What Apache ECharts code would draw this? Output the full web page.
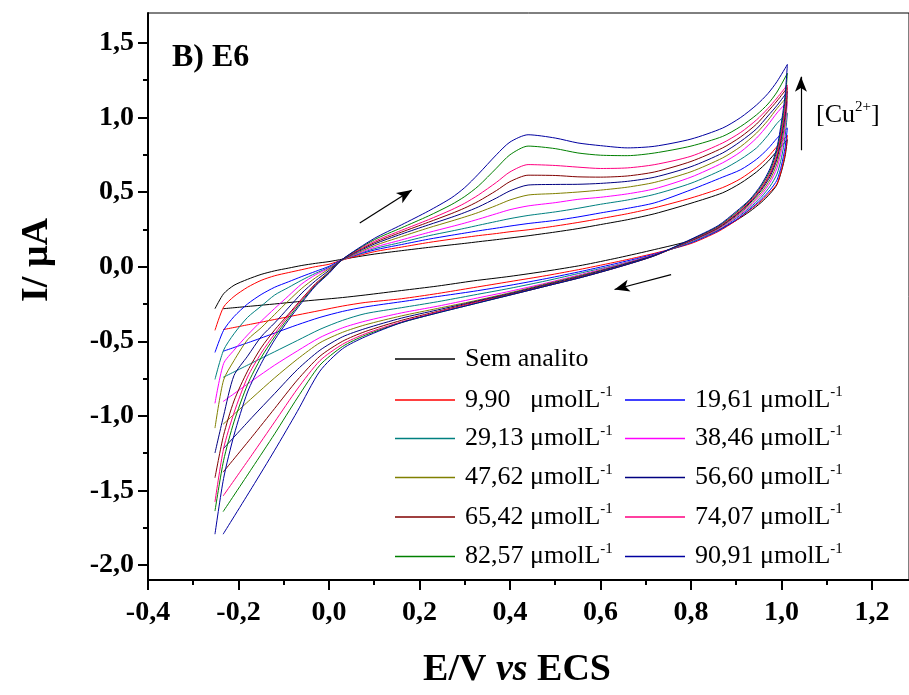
<!DOCTYPE html>
<html><head><meta charset="utf-8">
<script src="https://cdn.jsdelivr.net/npm/echarts@6/dist/echarts.min.js"></script>
<style>html,body{margin:0;padding:0;background:#fff}#c{width:909px;height:695px}</style>
</head><body><div id="c"></div>
<script>
// ---------- data ----------
// forward (anodic) scan potentials, V
const U_X = [-0.252, -0.233, -0.21, -0.18, -0.15, -0.12, -0.09, -0.06, -0.03, 0.0, 0.03, 0.1, 0.16, 0.22, 0.27, 0.3, 0.33, 0.37, 0.4, 0.44, 0.5, 0.55, 0.6, 0.66, 0.72, 0.8, 0.87, 0.91, 0.945, 0.97, 0.99, 1.013];
// reverse (cathodic) scan potentials, V
const L_X = [1.013, 1.008, 1.0, 0.99, 0.975, 0.955, 0.93, 0.9, 0.86, 0.8, 0.72, 0.64, 0.56, 0.48, 0.4, 0.32, 0.24, 0.16, 0.08, 0.03, -0.02, -0.07, -0.12, -0.17, -0.234];

const SERIES_NAMES = ['Sem analito', '9,90', '19,61', '29,13', '38,46', '47,62', '56,60', '65,42', '74,07', '82,57', '90,91'];
const COLORS = ['#000000', '#FF0000', '#0000FF', '#008080', '#FF00FF', '#808000', '#000080', '#800000', '#FF0080', '#008000', '#0000A0'];

// current, µA, forward scan
const UP_SEM   = [-0.282, -0.182, -0.125, -0.085, -0.052, -0.028, -0.01, 0.008, 0.022, 0.034, 0.05, 0.084, 0.107, 0.129, 0.146, 0.156, 0.167, 0.181, 0.192, 0.207, 0.232, 0.255, 0.282, 0.315, 0.355, 0.425, 0.495, 0.56, 0.635, 0.705, 0.775, 0.851];
const UP_9_90  = [-0.427, -0.271, -0.2, -0.138, -0.092, -0.061, -0.04, -0.02, 0.0, 0.016, 0.045, 0.1, 0.131, 0.162, 0.184, 0.196, 0.208, 0.222, 0.234, 0.247, 0.272, 0.296, 0.322, 0.355, 0.395, 0.46, 0.53, 0.59, 0.665, 0.735, 0.805, 0.88];
const UP_19_61 = [-0.575, -0.427, -0.335, -0.25, -0.187, -0.138, -0.102, -0.066, -0.032, 0.002, 0.048, 0.111, 0.148, 0.184, 0.21, 0.225, 0.24, 0.258, 0.272, 0.289, 0.31, 0.333, 0.36, 0.391, 0.428, 0.515, 0.6, 0.65, 0.72, 0.79, 0.86, 0.929];
const UP_29_13 = [-0.756, -0.56, -0.45, -0.34, -0.265, -0.19, -0.14, -0.09, -0.045, -0.005, 0.045, 0.12, 0.163, 0.207, 0.238, 0.257, 0.277, 0.303, 0.322, 0.343, 0.367, 0.391, 0.418, 0.447, 0.485, 0.559, 0.651, 0.72, 0.796, 0.88, 0.96, 1.029];
const UP_38_46 = [-0.916, -0.65, -0.56, -0.458, -0.366, -0.28, -0.197, -0.115, -0.055, -0.01, 0.045, 0.129, 0.179, 0.229, 0.268, 0.292, 0.318, 0.355, 0.382, 0.407, 0.429, 0.451, 0.465, 0.488, 0.522, 0.6, 0.696, 0.77, 0.862, 0.95, 1.03, 1.107];
const UP_47_62 = [-1.082, -0.76, -0.63, -0.49, -0.41, -0.32, -0.23, -0.145, -0.075, -0.015, 0.045, 0.14, 0.201, 0.26, 0.305, 0.333, 0.363, 0.41, 0.447, 0.48, 0.49, 0.5, 0.513, 0.533, 0.565, 0.636, 0.729, 0.805, 0.896, 0.98, 1.06, 1.14];
const UP_56_60 = [-1.249, -1.0, -0.73, -0.6, -0.47, -0.377, -0.277, -0.177, -0.095, -0.025, 0.048, 0.151, 0.218, 0.28, 0.33, 0.363, 0.4, 0.46, 0.508, 0.547, 0.551, 0.552, 0.558, 0.572, 0.6, 0.67, 0.762, 0.84, 0.924, 1.01, 1.08, 1.173];
const UP_65_42 = [-1.415, -1.13, -0.9, -0.7, -0.544, -0.424, -0.32, -0.215, -0.115, -0.035, 0.05, 0.16, 0.231, 0.298, 0.355, 0.393, 0.438, 0.51, 0.57, 0.613, 0.611, 0.602, 0.6, 0.608, 0.635, 0.705, 0.796, 0.87, 0.956, 1.04, 1.11, 1.2];
const UP_74_07 = [-1.577, -1.22, -0.98, -0.74, -0.58, -0.45, -0.33, -0.22, -0.12, -0.04, 0.05, 0.169, 0.243, 0.315, 0.38, 0.425, 0.48, 0.565, 0.635, 0.684, 0.678, 0.667, 0.658, 0.662, 0.684, 0.74, 0.829, 0.9, 0.984, 1.06, 1.13, 1.218];
const UP_82_57 = [-1.638, -1.3, -1.04, -0.79, -0.61, -0.47, -0.345, -0.23, -0.125, -0.04, 0.05, 0.18, 0.26, 0.34, 0.415, 0.47, 0.54, 0.66, 0.75, 0.808, 0.791, 0.762, 0.747, 0.744, 0.762, 0.808, 0.873, 0.94, 1.018, 1.09, 1.17, 1.296];
const UP_90_91 = [-1.793, -1.42, -1.13, -0.84, -0.65, -0.49, -0.36, -0.24, -0.13, -0.045, 0.05, 0.189, 0.28, 0.373, 0.46, 0.53, 0.62, 0.75, 0.835, 0.884, 0.862, 0.829, 0.811, 0.796, 0.807, 0.855, 0.929, 1.0, 1.084, 1.16, 1.24, 1.355];

// current, µA, reverse scan
const LOW_SEM   = [0.851, 0.74, 0.64, 0.55, 0.49, 0.43, 0.37, 0.31, 0.245, 0.175, 0.115, 0.06, 0.01, -0.03, -0.065, -0.095, -0.13, -0.16, -0.19, -0.207, -0.221, -0.235, -0.25, -0.264, -0.282];
const LOW_9_90  = [0.88, 0.76, 0.65, 0.555, 0.5, 0.44, 0.38, 0.31, 0.235, 0.155, 0.09, 0.035, -0.015, -0.06, -0.1, -0.14, -0.18, -0.215, -0.24, -0.264, -0.294, -0.324, -0.354, -0.384, -0.422];
const LOW_19_61 = [0.929, 0.8, 0.68, 0.58, 0.515, 0.45, 0.385, 0.315, 0.24, 0.16, 0.085, 0.025, -0.03, -0.08, -0.125, -0.165, -0.2, -0.235, -0.27, -0.3, -0.34, -0.39, -0.445, -0.5, -0.567];
const LOW_29_13 = [1.029, 0.87, 0.73, 0.62, 0.54, 0.465, 0.395, 0.325, 0.245, 0.165, 0.08, 0.015, -0.04, -0.095, -0.145, -0.19, -0.235, -0.275, -0.315, -0.36, -0.42, -0.495, -0.57, -0.645, -0.742];
const LOW_38_46 = [1.107, 0.93, 0.78, 0.66, 0.565, 0.48, 0.405, 0.33, 0.25, 0.17, 0.08, 0.012, -0.05, -0.11, -0.165, -0.215, -0.265, -0.31, -0.365, -0.41, -0.475, -0.565, -0.66, -0.765, -0.904];
const LOW_47_62 = [1.14, 0.97, 0.82, 0.69, 0.585, 0.495, 0.415, 0.338, 0.255, 0.172, 0.078, 0.008, -0.055, -0.115, -0.175, -0.23, -0.28, -0.33, -0.39, -0.44, -0.51, -0.62, -0.745, -0.88, -1.056];
const LOW_56_60 = [1.173, 1.01, 0.86, 0.72, 0.605, 0.51, 0.425, 0.345, 0.26, 0.175, 0.077, 0.005, -0.06, -0.12, -0.18, -0.235, -0.29, -0.345, -0.415, -0.47, -0.56, -0.69, -0.85, -1.01, -1.222];
const LOW_65_42 = [1.2, 1.04, 0.89, 0.74, 0.62, 0.52, 0.432, 0.35, 0.263, 0.177, 0.075, 0.0, -0.065, -0.125, -0.185, -0.24, -0.3, -0.36, -0.435, -0.5, -0.6, -0.76, -0.95, -1.14, -1.377];
const LOW_74_07 = [1.218, 1.06, 0.91, 0.755, 0.63, 0.527, 0.437, 0.355, 0.266, 0.178, 0.073, -0.003, -0.07, -0.13, -0.19, -0.245, -0.305, -0.37, -0.45, -0.52, -0.63, -0.82, -1.04, -1.26, -1.537];
const LOW_82_57 = [1.296, 1.11, 0.94, 0.78, 0.645, 0.538, 0.444, 0.362, 0.27, 0.181, 0.074, -0.002, -0.07, -0.13, -0.19, -0.25, -0.31, -0.375, -0.46, -0.535, -0.66, -0.88, -1.12, -1.35, -1.642];
const LOW_90_91 = [1.355, 1.15, 0.97, 0.8, 0.66, 0.548, 0.45, 0.37, 0.275, 0.184, 0.075, -0.002, -0.07, -0.13, -0.19, -0.25, -0.31, -0.375, -0.47, -0.55, -0.7, -0.97, -1.23, -1.48, -1.793];

const UPS  = [UP_SEM, UP_9_90, UP_19_61, UP_29_13, UP_38_46, UP_47_62, UP_56_60, UP_65_42, UP_74_07, UP_82_57, UP_90_91];
const LOWS = [LOW_SEM, LOW_9_90, LOW_19_61, LOW_29_13, LOW_38_46, LOW_47_62, LOW_56_60, LOW_65_42, LOW_74_07, LOW_82_57, LOW_90_91];

// axis ticks
const X_MIN = -0.4, X_MAX = 1.2818, Y_MIN = -2.1, Y_MAX = 1.7;
const X_MAJOR = [-0.4, -0.2, 0.0, 0.2, 0.4, 0.6, 0.8, 1.0, 1.2];
const X_MINOR = [-0.3, -0.1, 0.1, 0.3, 0.5, 0.7, 0.9, 1.1];
const Y_MAJOR = [-2.0, -1.5, -1.0, -0.5, 0.0, 0.5, 1.0, 1.5];
const Y_MINOR = [-1.75, -1.25, -0.75, -0.25, 0.25, 0.75, 1.25];

// arrows (data coordinates)
const ARROW_FWD = [[0.068, 0.293], [0.183, 0.513]];
const ARROW_REV = [[0.756, -0.053], [0.631, -0.153]];
const ARROW_CU  = [[1.043, 0.78], [1.043, 1.273]];

// ---------- chart ----------
const FONT = '"Liberation Serif", "Times New Roman", serif';
const fmt = v => v.toFixed(1).replace('.', ',');

const series = SERIES_NAMES.map((name, i) => {
  const pts = U_X.map((x, k) => [x, UPS[i][k]]).concat(L_X.map((x, k) => [x, LOWS[i][k]]));
  const s = {
    name, type: 'line', data: pts, showSymbol: false, symbol: 'none', smooth: 0.25,
    lineStyle: { color: COLORS[i], width: 1 }, itemStyle: { color: COLORS[i] },
    emphasis: { disabled: true }, silent: true, z: 2
  };
  if (i === 0) {
    s.markLine = {
      silent: true, symbol: ['none', 'arrow'], symbolSize: [9, 15], animation: false,
      label: { show: false }, emphasis: { disabled: true },
      lineStyle: { color: '#000', width: 1.2, type: 'solid' },
      data: [ARROW_FWD, ARROW_REV, ARROW_CU].map(a => [{ coord: a[0] }, { coord: a[1] }])
    };
  }
  return s;
});

const LEG_ROW_Y = [361, 400, 438.5, 477.5, 517, 556.5];
const LEG_COL_X = [395, 625];
const legendPos = [[0, 0], [0, 1], [1, 1], [0, 2], [1, 2], [0, 3], [1, 3], [0, 4], [1, 4], [0, 5], [1, 5]];
const legends = SERIES_NAMES.map((name, i) => ({
  data: [name], left: LEG_COL_X[legendPos[i][0]], top: LEG_ROW_Y[legendPos[i][1]] - 15,
  padding: 0, itemWidth: 60, itemHeight: 1.4, icon: 'rect', selectedMode: false,
  formatter: n => n === 'Sem analito' ? '{t|Sem analito}' : '{t|' + n + (n.length < 5 ? '   ' : ' ') + 'μmolL}{s|-1}',
  textStyle: {
    padding: [0, 0, 0, 5],
    rich: {
      t: { fontFamily: FONT, fontSize: 26, color: '#000', lineHeight: 30 },
      s: { fontFamily: FONT, fontSize: 15, color: '#000', lineHeight: 17, verticalAlign: 'top' }
    }
  }
}));

const tickStyle = { color: '#000', width: 2 };
const labelStyle = { fontFamily: FONT, fontWeight: 'bold', fontSize: 28, color: '#000' };

const chart = echarts.init(document.getElementById('c'), null, { renderer: 'canvas' });
chart.setOption({
  animation: false,
  backgroundColor: '#fff',
  grid: { left: 148, right: 0, top: 13, bottom: 115, show: true, borderColor: '#000', borderWidth: 1, backgroundColor: 'transparent' },
  legend: legends,
  xAxis: [{
    type: 'value', min: X_MIN, max: X_MAX, position: 'bottom',
    axisLine: { show: true, onZero: false, lineStyle: { color: '#000', width: 2 } },
    axisTick: { show: true, inside: false, length: 10, customValues: X_MAJOR, lineStyle: tickStyle },
    axisLabel: Object.assign({ show: true, margin: 19, customValues: X_MAJOR, formatter: fmt }, labelStyle),
    splitLine: { show: false }
  }, {
    type: 'value', min: X_MIN, max: X_MAX, position: 'bottom',
    axisLine: { show: false, onZero: false },
    axisTick: { show: true, inside: false, length: 5, customValues: X_MINOR, lineStyle: tickStyle },
    axisLabel: { show: false }, splitLine: { show: false }
  }],
  yAxis: [{
    type: 'value', min: Y_MIN, max: Y_MAX, position: 'left',
    axisLine: { show: true, onZero: false, lineStyle: { color: '#000', width: 2 } },
    axisTick: { show: true, inside: false, length: 10, customValues: Y_MAJOR, lineStyle: tickStyle },
    axisLabel: Object.assign({ show: true, margin: 14, customValues: Y_MAJOR, formatter: fmt }, labelStyle),
    splitLine: { show: false }
  }, {
    type: 'value', min: Y_MIN, max: Y_MAX, position: 'left',
    axisLine: { show: false, onZero: false },
    axisTick: { show: true, inside: false, length: 5, customValues: Y_MINOR, lineStyle: tickStyle },
    axisLabel: { show: false }, splitLine: { show: false }
  }],
  graphic: [
    { type: 'text', left: 172, top: 42, silent: true,
      style: { text: 'B) E6', fontFamily: FONT, fontWeight: 'bold', fontSize: 32, fill: '#000' } },
    { type: 'text', left: 816, top: 100, silent: true,
      style: { text: '{a|[Cu}{s|2+}{a|]}', fill: '#000',
        rich: { a: { fontFamily: FONT, fontSize: 26, lineHeight: 30 }, s: { fontFamily: FONT, fontSize: 15, lineHeight: 17, verticalAlign: 'top' } } } },
    { type: 'text', x: 517, y: 670, silent: true,
      style: { text: '{b|E/V }{i|vs}{b| ECS}', align: 'center', verticalAlign: 'middle', fill: '#000',
        rich: { b: { fontFamily: FONT, fontWeight: 'bold', fontSize: 38 },
                i: { fontFamily: FONT, fontWeight: 'bold', fontStyle: 'italic', fontSize: 38 } } } },
    { type: 'text', x: 37, y: 260, rotation: Math.PI / 2, silent: true,
      style: { text: 'I/ μA', align: 'center', verticalAlign: 'middle', fill: '#000',
        fontFamily: FONT, fontWeight: 'bold', fontSize: 38 } }
  ],
  series
});
</script></body></html>
